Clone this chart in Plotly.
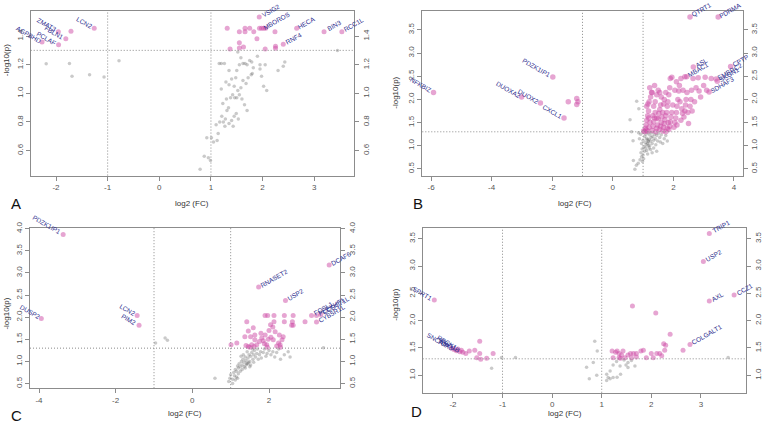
import math
import plotly.graph_objects as go

# ---------------- Panel A ----------------
A_sig_x = [1.315, 1.55, 1.66, 1.66, 1.83, 1.935, 1.94, 1.98, 2.02, 2.06, 2.24, 2.66, 3.19, 3.535, 2.40, 2.25, 2.25,
           1.89, 1.55, 1.55, 1.63, 1.37, 2.05, 1.75,
           -1.955, -1.71, -1.81, -1.95, -2.27, -1.26]
A_sig_y = [1.455, 1.432, 1.455, 1.432, 1.432, 1.534, 1.455, 1.455, 1.455, 1.455, 1.432, 1.455, 1.432, 1.432, 1.343, 1.33, 1.315,
           1.382, 1.355, 1.318, 1.324, 1.31, 1.31, 1.455,
           1.432, 1.434, 1.382, 1.34, 1.359, 1.455]
A_ns_x = [0.79, 0.87, 0.95, 0.99, 0.92, 1.01, 1.05, 1.12, 1.14, 1.10, 1.17, 1.21, 1.24, 1.28, 1.31, 1.34, 1.27, 1.35,
          1.40, 1.45, 1.49, 1.53, 1.43, 1.30, 1.38, 1.42, 1.46, 1.50, 1.55, 1.60, 1.65, 1.70, 1.23, 1.20, 1.29, 1.35,
          1.40, 1.45, 1.48, 1.52, 1.58, 1.62, 1.68, 1.72, 1.26, 1.16, 1.20, 1.35, 1.50, 1.55, 1.58, 1.62, 1.66, 1.70,
          1.75, 1.79, 1.80, 1.82, 1.95, 1.98, 2.02, 2.08, 2.05, 1.90, 2.30, 2.40, 2.43, 1.52, 1.95, 1.78, 3.45,
          -2.19, -1.74, -1.69, -1.35, -1.07, -0.78]
A_ns_y = [0.47, 0.56, 0.55, 0.53, 0.69, 0.69, 0.66, 0.67, 0.72, 0.78, 0.80, 0.84, 0.80, 0.82, 0.88, 0.90, 0.77, 0.79,
          0.81, 0.84, 0.86, 0.82, 0.77, 0.96, 0.97, 0.99, 0.97, 0.97, 0.99, 0.96, 0.92, 0.88, 0.93, 1.03, 1.08, 1.06,
          1.10, 1.05, 1.11, 1.02, 1.04, 1.09, 1.07, 1.11, 1.21, 1.21, 1.21, 1.16, 1.16, 1.20, 1.25, 1.21, 1.21, 1.20,
          1.23, 1.22, 1.14, 1.18, 1.20, 1.12, 1.05, 1.02, 1.20, 1.26, 1.16, 1.19, 1.22, 1.29, 1.17, 1.13, 1.30,
          1.207, 1.21, 1.12, 1.13, 1.115, 1.228]
A_lab_names = ["ZMAT3", "FBLN1", "PCLAF", "AGPBHD", "LCN2", "VSIG2", "MBOROS", "HECA", "RNF4", "BIN3", "RCC1L"]
A_lab_x = [-1.955, -1.81, -1.95, -2.27, -1.26, 1.935, 2.02, 2.66, 2.40, 3.19, 3.535]
A_lab_y = [1.432, 1.382, 1.34, 1.359, 1.455, 1.534, 1.455, 1.455, 1.343, 1.432, 1.432]
A_lab_side = ["L", "L", "L", "L", "L", "R", "R", "R", "R", "R", "R"]
A_xticks = [-2, -1, 0, 1, 2, 3]
A_yticks = [0.6, 0.8, 1.0, 1.2, 1.4]

# ---------------- Panel B ----------------
B_sig_x = [-5.92, -1.98, -3.01, -2.39, -1.61, -1.47, -1.19, -1.19, -1.15,
           2.55, 3.48, 2.66, 2.44, 3.89, 3.41, 3.45, 3.18, 2.38, 2.82,
           1.02, 1.05, 1.08, 1.10, 1.12, 1.15, 1.18, 1.12, 1.16, 1.20, 1.25, 1.28, 1.22, 1.10, 1.15, 1.20, 1.23, 1.19,
           1.30, 1.33, 1.35, 1.38, 1.40, 1.42, 1.45, 1.48, 1.50, 1.52, 1.55, 1.58, 1.35, 1.40, 1.45, 1.50, 1.55, 1.60,
           1.30, 1.38, 1.55, 1.58, 1.60, 1.62, 1.65, 1.45, 1.32,
           1.65, 1.68, 1.70, 1.72, 1.75, 1.78, 1.80, 1.82, 1.85, 1.88, 1.90, 1.95, 1.70, 1.75, 1.68, 1.85, 1.88, 1.90,
           1.92, 1.95, 1.98, 1.75, 1.80, 1.83,
           2.02, 2.05, 2.08, 2.10, 2.12, 2.15, 2.18, 2.20, 2.25, 2.22, 2.28, 2.30, 2.35, 2.38, 2.40, 2.42, 2.45, 2.48,
           2.50, 2.05, 2.10, 2.32, 2.12, 2.25,
           2.55, 2.58, 2.60, 2.65, 2.70, 2.75, 2.85, 2.90, 3.00, 3.05, 3.10, 3.25, 2.62]
B_sig_y = [2.15, 2.486, 2.05, 1.92, 1.60, 1.95, 2.02, 1.89, 1.95,
           3.78, 3.78, 2.70, 2.49, 2.71, 2.44, 2.39, 2.16, 2.49, 2.47,
           1.32, 1.30, 1.38, 1.45, 1.55, 1.65, 1.75, 1.85, 1.90, 1.95, 2.05, 2.15, 2.25, 1.34, 1.32, 1.40, 1.50, 1.60,
           1.33, 1.42, 1.52, 1.60, 1.72, 1.30, 1.38, 1.45, 1.58, 1.70, 1.78, 1.88, 1.85, 1.95, 2.10, 2.20, 2.15, 2.05,
           2.15, 2.30, 1.35, 1.42, 1.50, 1.62, 1.72, 1.60, 1.65,
           1.32, 1.40, 1.48, 1.56, 1.65, 1.72, 1.85, 1.95, 2.10, 2.25, 2.45, 2.48, 2.00, 2.15, 1.90, 1.35, 1.42, 1.52,
           1.62, 1.72, 1.88, 1.30, 1.38, 1.50,
           1.40, 1.50, 1.60, 1.72, 1.85, 2.00, 2.18, 2.30, 2.45, 1.95, 1.80, 1.70, 1.62, 1.75, 1.88, 2.00, 2.15, 1.72,
           1.48, 2.20, 2.38, 2.20, 1.45, 1.55,
           1.85, 2.00, 2.20, 2.45, 1.95, 2.25, 2.18, 2.05, 2.30, 2.48, 2.20, 2.45, 1.75]
B_ns_x = [0.73, 0.68, 0.78, 0.84, 0.90, 0.95, 0.98, 1.00, 1.02, 0.93, 1.05, 1.08, 1.10, 1.12, 1.15, 1.17, 1.18,
          1.20, 1.22, 1.25, 1.27, 1.30, 1.32, 1.35, 1.38, 1.40, 1.45, 1.48, 1.50, 1.55, 1.60, 1.65, 1.70, 1.05, 1.10,
          1.00, 0.95, 0.92, 0.88, 0.85, 1.15, 1.25, 1.35, 1.42, 1.28, 1.18, 1.22, 1.12, 1.08, 1.03, 0.97, 1.57, 1.75,
          1.80, 0.79, 0.86, 0.57, 0.67, 0.62, 1.45, 1.30, 1.20, 1.13, 1.17]
B_ns_y = [0.49, 0.68, 0.58, 0.62, 0.70, 0.76, 0.66, 0.80, 0.72, 0.85, 0.88, 0.95, 1.02, 0.90, 1.05, 1.11, 1.08,
          1.14, 1.00, 1.10, 1.18, 1.05, 1.20, 1.12, 1.25, 1.15, 1.22, 1.10, 1.27, 1.18, 1.24, 1.05, 1.15, 1.20, 1.25,
          1.12, 1.05, 1.25, 1.15, 1.28, 0.82, 0.92, 0.95, 1.02, 1.28, 1.28, 1.23, 1.16, 1.07, 0.98, 0.93, 1.08, 1.22,
          1.10, 1.96, 1.80, 1.56, 1.11, 1.30, 0.88, 0.85, 0.95, 1.13, 1.00]
B_lab_names = ["NFKBIZ", "PDZK1IP1", "DUOXA2", "DUOX2", "CXCL1", "QTRT1", "PDRMA", "ASL", "MBAC1", "CPTP", "EMBRC2",
               "SKGN1", "SDHAF3"]
B_lab_x = [-5.92, -1.98, -3.01, -2.39, -1.61, 2.55, 3.48, 2.66, 2.44, 3.89, 3.41, 3.45, 3.18]
B_lab_y = [2.15, 2.486, 2.05, 1.92, 1.60, 3.78, 3.78, 2.70, 2.49, 2.71, 2.44, 2.39, 2.16]
B_lab_side = ["L", "L", "L", "L", "L", "R", "R", "R", "R", "R", "R", "R", "R"]
B_xticks = [-6, -4, -2, 0, 2, 4]
B_yticks = [0.5, 1.0, 1.5, 2.0, 2.5, 3.0, 3.5]

# ---------------- Panel C ----------------
C_sig_x = [-3.37, -3.94, -1.44, -1.39, 1.73, 2.43, 3.57, 3.11, 3.24, 3.35, 3.24,
           1.01, 1.16, 1.42, 1.46, 1.59, 1.37, 1.52, 1.63, 1.55, 1.46, 1.61, 1.79, 1.81, 1.90, 1.85, 1.94, 1.96,
           2.10, 2.04, 2.16, 2.11, 2.27, 2.34, 2.37, 2.29, 2.30, 1.68, 1.63, 1.896, 1.965, 2.13, 2.40, 2.63, 2.13,
           2.40, 2.61, 2.94, 2.59, 2.63, 2.00, 1.88, 2.20, 1.75, 1.50, 1.40, 2.05, 2.25, 1.98]
C_sig_y = [3.87, 1.97, 2.04, 1.82, 2.68, 2.375, 3.18, 2.04, 2.04, 2.06, 1.89,
           1.38, 1.42, 1.895, 1.69, 1.76, 1.56, 1.56, 1.49, 1.38, 1.34, 1.34, 1.64, 1.53, 1.60, 1.47, 1.38, 1.32,
           1.78, 1.83, 1.67, 1.49, 1.60, 1.49, 1.56, 1.38, 1.32, 1.38, 1.60, 2.04, 2.04, 2.04, 2.04, 2.04, 1.895,
           1.895, 1.895, 1.895, 1.82, 1.82, 1.70, 1.40, 1.35, 1.45, 1.32, 1.36, 1.55, 1.42, 1.50]
C_ns_x = [-0.96, -0.71, -0.65, 0.59, 0.95, 0.98, 1.00, 1.05, 1.08, 1.10, 1.12, 1.15, 1.18, 1.20, 1.22, 1.25, 1.28,
          1.30, 1.32, 1.35, 1.38, 1.40, 1.42, 1.45, 1.48, 1.50, 1.52, 1.55, 1.58, 1.60, 1.62, 1.65, 1.68, 1.70, 1.72,
          1.75, 1.78, 1.80, 1.85, 1.88, 1.92, 1.95, 2.00, 2.05, 2.10, 2.15, 2.20, 2.25, 2.30, 2.40, 2.50, 2.55, 1.25,
          1.30, 1.35, 1.20, 1.15, 1.40, 1.45, 1.50, 1.60, 1.33, 1.27, 1.43, 1.57, 3.42, 1.05, 1.12, 1.18, 1.38, 1.46,
          1.52]
C_ns_y = [1.415, 1.53, 1.48, 0.62, 0.55, 0.62, 0.70, 0.60, 0.75, 0.68, 0.82, 0.78, 0.90, 0.85, 0.95, 0.88, 1.00,
          0.92, 1.05, 0.98, 1.10, 1.02, 0.95, 1.08, 1.15, 1.00, 1.12, 1.20, 1.05, 1.15, 1.25, 1.10, 1.18, 1.28, 1.05,
          1.15, 1.22, 1.08, 1.20, 1.28, 1.12, 1.18, 1.25, 1.15, 1.22, 1.10, 1.20, 1.28, 1.05, 1.15, 1.22, 1.10, 0.78,
          0.82, 0.88, 0.72, 0.65, 0.92, 0.95, 0.88, 0.98, 1.15, 1.12, 1.22, 1.28, 1.31, 0.50, 0.58, 0.62, 0.85, 0.98,
          0.92]
C_lab_names = ["PDZK1IP1", "DUSP2", "LCN2", "PIM2", "RNASET2", "USP2", "DCAF6", "FOSL1", "PLEKHF1", "CCDC71L",
               "CYB5R1L"]
C_lab_x = [-3.37, -3.94, -1.44, -1.39, 1.73, 2.43, 3.57, 3.11, 3.24, 3.35, 3.24]
C_lab_y = [3.87, 1.97, 2.04, 1.82, 2.68, 2.375, 3.18, 2.04, 2.04, 2.06, 1.89]
C_lab_side = ["L", "L", "L", "L", "R", "R", "R", "R", "R", "R", "R"]
C_xticks = [-4, -2, 0, 2]
C_yticks = [0.5, 1.0, 1.5, 2.0, 2.5, 3.0, 3.5, 4.0]

# ---------------- Panel D ----------------
D_sig_x = [-2.376, -2.03, -1.98, -1.93, -1.90, -1.86, -1.83, -1.80,
           3.17, 3.05, 3.17, 3.67, 2.78,
           1.62, 2.09, 2.38, 2.25, 2.29, 2.64, -1.46, -1.56, -1.46, -1.52, -1.32, -1.19, -1.44, -1.74, -1.67,
           1.21, 1.31, 1.35, 1.43, 1.35, 1.47, 1.53, 1.60, 1.64, 1.70, 1.79, 1.84, 1.90, 2.00, 2.11, 2.04, 2.17,
           2.21, 2.27, 1.23, 1.40, 1.70, 1.38, 1.58, 1.28]
D_sig_y = [2.376, 1.50, 1.47, 1.45, 1.48, 1.43, 1.46, 1.42,
           3.596, 3.085, 2.36, 2.47, 1.565,
           2.27, 2.14, 1.75, 1.577, 1.55, 1.46, 1.625, 1.457, 1.397, 1.32, 1.31, 1.40, 1.295, 1.40, 1.445,
           1.445, 1.445, 1.40, 1.445, 1.32, 1.32, 1.37, 1.32, 1.40, 1.335, 1.445, 1.46, 1.32, 1.40, 1.40, 1.32, 1.40,
           1.355, 1.46, 1.32, 1.37, 1.40, 1.31, 1.40, 1.42]
D_ns_x = [0.86, 0.91, 0.83, 0.695, 0.75, 0.90, -1.22, -1.02, -0.74, 1.10, 1.13, 1.17, 1.23, 1.30, 1.37, 1.49, 1.53,
          1.67, 1.31, 1.38, 1.53, 1.10, 1.17, 1.23, 3.55, 1.45, 1.60]
D_ns_y = [1.625, 1.445, 1.235, 1.145, 0.935, 1.0, 1.13, 1.325, 1.325, 1.02, 0.96, 1.08, 1.19, 1.25, 1.17, 1.19, 1.235,
          1.17, 0.965, 1.02, 1.14, 0.905, 0.935, 0.96, 1.325, 1.28, 1.27]
D_lab_names = ["SPRT1", "SNCAIP", "TOX3", "RBCK1", "ERO1B", "TRIP1", "USP2", "AXL", "CCZ1", "COLGALT1"]
D_lab_x = [-2.376, -2.03, -1.95, -1.88, -1.82, 3.17, 3.05, 3.17, 3.67, 2.78]
D_lab_y = [2.376, 1.50, 1.46, 1.47, 1.43, 3.596, 3.085, 2.36, 2.47, 1.565]
D_lab_side = ["L", "L", "L", "L", "L", "R", "R", "R", "R", "R"]
D_xticks = [-2, -1, 0, 1, 2, 3]
D_yticks = [1.0, 1.5, 2.0, 2.5, 3.0, 3.5]

W, H = 763, 423
PINK = "rgba(205,75,165,0.50)"
GREY = "rgba(90,90,90,0.32)"
LINE = "#8c8c8c"
TICKC = "#555555"
LABC = "#2a2a8c"

panels = [
    dict(sx=A_sig_x, sy=A_sig_y, nx=A_ns_x, ny=A_ns_y, ln=A_lab_names, lx=A_lab_x, ly=A_lab_y, ls=A_lab_side,
         xt=A_xticks, yt=A_yticks, box=(30.7, 354.0, 5.0, 172.0), xr=[-2.49, 3.77], yr=[0.425, 1.577],
         letter="A", lpos=(16, 200), xtitle=(192, 200), ytitle=(6, 55), ms=5),
    dict(sx=B_sig_x, sy=B_sig_y, nx=B_ns_x, ny=B_ns_y, ln=B_lab_names, lx=B_lab_x, ly=B_lab_y, ls=B_lab_side,
         xt=B_xticks, yt=B_yticks, box=(422.3, 742.7, 5.0, 172.3), xr=[-6.29, 4.29], yr=[0.35, 3.91],
         letter="B", lpos=(418, 200), xtitle=(575, 200), ytitle=(396, 88), ms=5.5),
    dict(sx=C_sig_x, sy=C_sig_y, nx=C_ns_x, ny=C_ns_y, ln=C_lab_names, lx=C_lab_x, ly=C_lab_y, ls=C_lab_side,
         xt=C_xticks, yt=C_yticks, box=(30.0, 340.3, 225.0, 387.7), xr=[-4.235, 3.86], yr=[0.396, 4.02],
         letter="C", lpos=(16, 415), xtitle=(185, 413), ytitle=(7, 312), ms=5),
    dict(sx=D_sig_x, sy=D_sig_y, nx=D_ns_x, ny=D_ns_y, ln=D_lab_names, lx=D_lab_x, ly=D_lab_y, ls=D_lab_side,
         xt=D_xticks, yt=D_yticks, box=(422.7, 746.0, 225.0, 392.3), xr=[-2.61, 3.91], yr=[0.68, 3.70],
         letter="D", lpos=(417, 411), xtitle=(565, 413), ytitle=(396, 303), ms=5),
]

fig = go.Figure()
layout = dict(width=W, height=H, margin=dict(l=0, r=0, t=0, b=0), paper_bgcolor="white", plot_bgcolor="white",
              showlegend=False, shapes=[], annotations=[])
tickfont = dict(family="Liberation Sans, Arial", size=8, color=TICKC)


def aid(letter, n):
    return letter if n == 1 else f"{letter}{n}"


def paper_text(x, y, text, size, color, angle=0):
    return dict(x=x / W, y=1 - y / H, xref="paper", yref="paper", text=text, showarrow=False,
                xanchor="center", yanchor="middle", textangle=angle,
                font=dict(family="Liberation Sans, Arial", size=size, color=color))


for i, p in enumerate(panels, start=1):
    xa, ya, yra = aid("x", i), aid("y", i), aid("y", i + 4)
    xl, xr_, yt_, yb = p["box"]
    xdom = [xl / W, xr_ / W]
    ydom = [1 - yb / H, 1 - yt_ / H]
    axkey = "xaxis" if i == 1 else f"xaxis{i}"
    aykey = "yaxis" if i == 1 else f"yaxis{i}"
    layout[axkey] = dict(domain=xdom, anchor=ya, range=p["xr"], tickvals=p["xt"],
                         ticktext=[str(v) for v in p["xt"]], showgrid=False, zeroline=False, showline=True,
                         linecolor=LINE, linewidth=1, mirror=True, ticks="outside", ticklen=4, tickcolor=LINE,
                         tickfont=tickfont)
    layout[aykey] = dict(domain=ydom, anchor=xa, range=p["yr"], tickvals=p["yt"],
                         ticktext=[f"{v:.1f}" for v in p["yt"]], showgrid=False, zeroline=False, showline=True,
                         linecolor=LINE, linewidth=1, mirror=True, ticks="outside", ticklen=4, tickcolor=LINE,
                         tickangle=-90, tickfont=tickfont)
    layout[f"yaxis{i+4}"] = dict(overlaying=ya, anchor=xa, side="right", range=p["yr"], tickvals=p["yt"],
                                 ticktext=[f"{v:.1f}" for v in p["yt"]], showgrid=False, zeroline=False,
                                 showline=False, ticks="outside", ticklen=4, tickcolor=LINE, tickangle=-90,
                                 tickfont=tickfont)
    # threshold lines
    for xv in (-1, 1):
        layout["shapes"].append(dict(type="line", xref=xa, yref=f"{ya} domain", x0=xv, x1=xv, y0=0, y1=1,
                                     line=dict(color="#8a8a8a", width=1, dash="1px,2px")))
    layout["shapes"].append(dict(type="line", xref=f"{xa} domain", yref=ya, x0=0, x1=1, y0=1.30103, y1=1.30103,
                                 line=dict(color="#8a8a8a", width=1, dash="1px,2px")))
    # points
    fig.add_trace(go.Scatter(x=p["nx"], y=p["ny"], mode="markers", xaxis=xa, yaxis=ya, hoverinfo="skip",
                             marker=dict(size=3.5, color=GREY, line=dict(width=0))))
    fig.add_trace(go.Scatter(x=p["sx"], y=p["sy"], mode="markers", xaxis=xa, yaxis=ya, hoverinfo="skip",
                             marker=dict(size=p["ms"], color=PINK, line=dict(width=0))))
    fig.add_trace(go.Scatter(x=[None], y=[None], mode="markers", xaxis=xa, yaxis=yra, hoverinfo="skip"))
    # gene labels
    for name, lx, ly, side in zip(p["ln"], p["lx"], p["ly"], p["ls"]):
        L = len(name) * 3.8
        d = L / 2 + 4
        s = 1 if side == "R" else -1
        layout["annotations"].append(dict(
            x=lx, y=ly, xref=xa, yref=ya, text=name, showarrow=False, textangle=-30 * s,
            xanchor="center", yanchor="middle", xshift=s * d * math.cos(math.radians(30)),
            yshift=d * math.sin(math.radians(30)),
            font=dict(family="Liberation Sans, Arial", size=6.5, color=LABC)))
    # axis titles and panel letter
    tx, ty = p["xtitle"]
    layout["annotations"].append(paper_text(tx, ty, "log2 (FC)", 8, "#333333"))
    tx, ty = p["ytitle"]
    layout["annotations"].append(paper_text(tx, ty, "-log10(p)", 8, "#333333", angle=-90))
    lx_, ly_ = p["lpos"]
    layout["annotations"].append(paper_text(lx_, ly_, p["letter"], 15, "#111111"))

fig.update_layout(**layout)
fig.write_html("out.html", config={"displayModeBar": False},
               post_script="document.body.style.margin='0';document.body.style.padding='0';")
